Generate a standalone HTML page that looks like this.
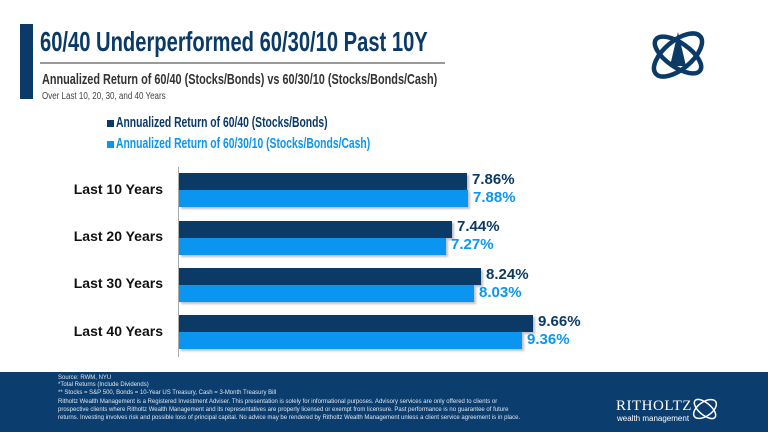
<!DOCTYPE html>
<html><head><meta charset="utf-8"><style>
*{margin:0;padding:0;box-sizing:border-box}
body{width:768px;height:432px;overflow:hidden;background:#fff;font-family:"Liberation Sans",Arial,sans-serif;position:relative}
.abs{position:absolute;white-space:nowrap}
.sx{transform-origin:0 0}
.dk{background:#0b3a66}.lt{background:#0a96f0}
.bar{position:absolute;left:179px;height:17px;box-shadow:2px 2px 2px rgba(0,0,0,0.25)}
.val{position:absolute;font-weight:bold;font-size:15px;line-height:17px}
.cat{position:absolute;right:605px;font-weight:bold;font-size:14px;color:#111;text-align:right}
</style></head><body>
<div class="abs" style="left:20px;top:24px;width:13px;height:75px;background:#0b3a66"></div>
<div class="abs sx" style="left:40px;top:26px;font-size:28px;font-weight:bold;color:#0b3a66;transform:scaleX(0.72)">60/40 Underperformed 60/30/10 Past 10Y</div>
<div class="abs" style="left:40px;top:62px;width:405px;height:2px;background:#999"></div>
<div class="abs sx" style="left:42px;top:71px;font-size:15px;font-weight:bold;color:#333;transform:scaleX(0.725)">Annualized Return of 60/40 (Stocks/Bonds) vs 60/30/10 (Stocks/Bonds/Cash)</div>
<div class="abs sx" style="left:42px;top:91px;font-size:10px;color:#444;transform:scaleX(0.8)">Over Last 10, 20, 30, and 40 Years</div>
<svg class="abs" style="left:646px;top:24px" width="64" height="62" viewBox="0 0 64 62"><g fill="none" stroke="#0b3a66" stroke-width="4.5"><ellipse cx="32" cy="31" rx="29" ry="14" transform="rotate(-40 32 31)"/><ellipse cx="32" cy="31" rx="27" ry="12" transform="rotate(35 32 31)"/></g><path d="M32 8 L40 42 L24 42Z" fill="#0b3a66"/></svg>
<div class="abs" style="left:107px;top:120px;width:7px;height:7px;background:#0b3a66"></div>
<div class="abs sx" style="left:116px;top:114px;font-size:15px;font-weight:bold;color:#0b3a66;transform:scaleX(0.69)">Annualized Return of 60/40 (Stocks/Bonds)</div>
<div class="abs" style="left:107px;top:141px;width:7px;height:7px;background:#0a96f0"></div>
<div class="abs sx" style="left:116px;top:135px;font-size:15px;font-weight:bold;color:#0a96f0;transform:scaleX(0.69)">Annualized Return of 60/30/10 (Stocks/Bonds/Cash)</div>
<div class="abs" style="left:178px;top:167px;width:1px;height:190px;background:#aaa"></div>

<div class="cat" style="top:181px">Last 10 Years</div>
<div class="bar dk" style="top:173px;width:288px"></div><div class="val" style="top:171px;left:472px;color:#0b3a66">7.86%</div>
<div class="bar lt" style="top:190px;width:289px"></div><div class="val" style="top:189px;left:473px;color:#0a96f0">7.88%</div>

<div class="cat" style="top:228px">Last 20 Years</div>
<div class="bar dk" style="top:221px;width:273px"></div><div class="val" style="top:218px;left:457px;color:#0b3a66">7.44%</div>
<div class="bar lt" style="top:238px;width:267px"></div><div class="val" style="top:236px;left:451px;color:#0a96f0">7.27%</div>

<div class="cat" style="top:275px">Last 30 Years</div>
<div class="bar dk" style="top:268px;width:302px"></div><div class="val" style="top:266px;left:486px;color:#0b3a66">8.24%</div>
<div class="bar lt" style="top:285px;width:295px"></div><div class="val" style="top:284px;left:479px;color:#0a96f0">8.03%</div>

<div class="cat" style="top:323px">Last 40 Years</div>
<div class="bar dk" style="top:315px;width:354px"></div><div class="val" style="top:313px;left:538px;color:#0b3a66">9.66%</div>
<div class="bar lt" style="top:332px;width:343px"></div><div class="val" style="top:331px;left:527px;color:#0a96f0">9.36%</div>

<div class="abs" style="left:0;top:372px;width:768px;height:60px;background:#0b3d6e"></div>
<div class="abs" style="left:58px;top:375px;font-size:6px;line-height:7.3px;color:#dfe8f2">Source: RWM, NYU<br>*Total Returns (Include Dividends)<br>** Stocks = S&amp;P 500, Bonds = 10-Year US Treasury, Cash = 3-Month Treasury Bill</div>
<div class="abs" style="left:58px;top:399px;font-size:6px;line-height:7.8px;color:#dfe8f2">Ritholtz Wealth Management is a Registered Investment Adviser. This presentation is solely for informational purposes. Advisory services are only offered to clients or<br>prospective clients where Ritholtz Wealth Management and its representatives are properly licensed or exempt from licensure. Past performance is no guarantee of future<br>returns. Investing involves risk and possible loss of principal capital. No advice may be rendered by Ritholtz Wealth Management unless a client service agreement is in place.</div>
<div class="abs" style="left:616px;top:398px;font-family:'Liberation Serif',serif;font-size:15px;color:#fff;letter-spacing:0.5px">RITHOLTZ</div>
<div class="abs" style="left:617px;top:414px;font-size:8px;color:#fff">wealth management</div>
<svg class="abs" style="left:690px;top:394px" width="30" height="30" viewBox="0 0 30 30"><g fill="none" stroke="#fff" stroke-width="1.5"><ellipse cx="15" cy="15" rx="13" ry="7" transform="rotate(-35 15 15)"/><ellipse cx="15" cy="15" rx="13" ry="6" transform="rotate(40 15 15)"/></g></svg>
</body></html>
